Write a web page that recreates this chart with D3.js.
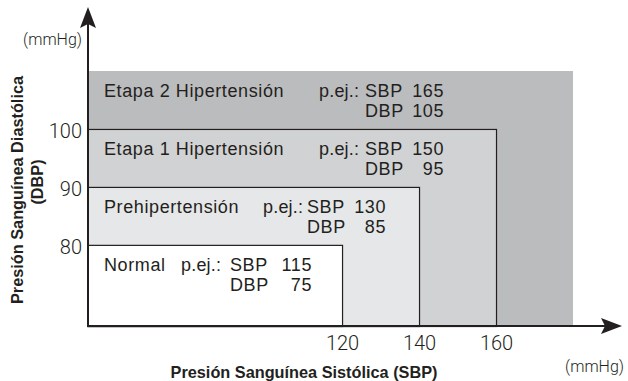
<!DOCTYPE html>
<html>
<head>
<meta charset="utf-8">
<script src="https://cdn.jsdelivr.net/npm/d3@7"></script>
<style>
  html, body { margin: 0; padding: 0; background: #fff; }
  svg { display: block; font-family: "Liberation Sans", Arial, Helvetica, sans-serif; }
  .light { font-family: Roboto, "Liberation Sans", Arial, sans-serif; font-weight: 300; }
</style>
</head>
<body>
<svg id="chart" width="628" height="381"></svg>
<script>
// Blood pressure categories (upper bounds of each zone, mmHg)
const stages = ["Normal", "Prehipertensión", "Etapa 1 Hipertensión", "Etapa 2 Hipertensión"];
const sbpUpper = [120, 140, 160, 180];
const dbpUpper = [80, 90, 100, 110];
// Example readings shown inside each zone
const exampleSBP = [115, 130, 150, 165];
const exampleDBP = [75, 85, 95, 105];
// Axis ticks
const xTicks = [120, 140, 160];
const yTicks = [80, 90, 100];

const fills = ["#ffffff", "#e6e7e8", "#d1d2d4", "#bbbcbe"];
const ink = "#231f20";

const svg = d3.select("#chart");
const x0 = 88, yBase = 326;
const x = d3.scaleLinear().domain([54, 180]).range([x0, 573]);
const y = d3.scaleLinear().domain([66, 110]).range([yBase, 71]);

// per-zone text layout: "p.ej.:" prefix, SBP/DBP tag and right edge of the numbers
const pejX = [181, 263, 319, 319];
const tagX = [230, 307, 365, 365];
const numEnd = [312, 386, 444, 444];

const rows = stages.map((s, i) => ({
  name: s, sbp: sbpUpper[i], dbp: dbpUpper[i], exS: exampleSBP[i], exD: exampleDBP[i], i
}));

// Zones, largest first so smaller ones sit on top
const zones = svg.append("g");
rows.slice().reverse().forEach(d => {
  const framed = d.i < 3;
  zones.append("rect")
    .attr("x", x(54))
    .attr("y", y(d.dbp) + (framed ? 0.5 : 0))
    .attr("width", x(d.sbp) - x(54) + (framed ? 0.5 : 0))
    .attr("height", yBase - y(d.dbp))
    .attr("fill", fills[d.i])
    .attr("stroke", framed ? ink : "none")
    .attr("stroke-width", 1.2);
});

// Zone labels
const labels = svg.append("g").attr("fill", ink)
  .style("font-size", "18px").style("letter-spacing", "0.6px");
rows.forEach(d => {
  const b1 = y(d.dbp) + 26, b2 = b1 + 20;
  labels.append("text").attr("x", 104).attr("y", b1).text(d.name);
  labels.append("text").attr("x", pejX[d.i]).attr("y", b1).style("letter-spacing", "0.2px").text("p.ej.:");
  labels.append("text").attr("x", tagX[d.i]).attr("y", b1).text("SBP");
  labels.append("text").attr("x", numEnd[d.i]).attr("y", b1).attr("text-anchor", "end").text(d.exS);
  labels.append("text").attr("x", tagX[d.i]).attr("y", b2).text("DBP");
  labels.append("text").attr("x", numEnd[d.i]).attr("y", b2).attr("text-anchor", "end").text(d.exD);
});

// Axes
const axisX = d3.axisBottom(x).tickValues(xTicks).tickSize(0).tickPadding(10);
const gx = svg.append("g").attr("transform", `translate(0,${yBase})`).call(axisX);
gx.select(".domain").remove();
gx.selectAll("text").attr("class", "light").attr("fill", ink).style("font-size", "20px");

const axisY = d3.axisLeft(y).tickValues(yTicks).tickSize(0).tickPadding(6);
const gy = svg.append("g").attr("transform", `translate(${x0},0)`).call(axisY);
gy.select(".domain").remove();
gy.selectAll("text").attr("class", "light").attr("fill", ink).style("font-size", "20px").attr("dy", "0.45em");

// Axis lines with arrowheads
svg.append("line").attr("x1", x0).attr("y1", yBase + 1).attr("x2", x0).attr("y2", 20)
  .attr("stroke", ink).attr("stroke-width", 2);
svg.append("line").attr("x1", x0 - 1).attr("y1", yBase).attr("x2", 608).attr("y2", yBase)
  .attr("stroke", ink).attr("stroke-width", 2);
svg.append("path").attr("d", `M${x0},7 L${x0 + 8},28 L${x0},24 L${x0 - 8},28 Z`).attr("fill", ink);
svg.append("path").attr("d", `M622,${yBase} L601,${yBase - 8} L605,${yBase} L601,${yBase + 8} Z`).attr("fill", ink);

// Units
svg.append("text").attr("class", "light").attr("x", 82).attr("y", 45).attr("text-anchor", "end")
  .attr("fill", ink).style("font-size", "16px").text("(mmHg)");
svg.append("text").attr("class", "light").attr("x", 624).attr("y", 372).attr("text-anchor", "end")
  .attr("fill", ink).style("font-size", "16px").text("(mmHg)");

// Axis titles
svg.append("text").attr("x", 304).attr("y", 378).attr("text-anchor", "middle")
  .attr("fill", ink).style("font-size", "16.3px").style("font-weight", "bold")
  .text("Presión Sanguínea Sistólica (SBP)");
const yt = svg.append("g").attr("transform", "translate(0,190) rotate(-90)")
  .attr("fill", ink).style("font-size", "16.3px").style("font-weight", "bold")
  .attr("text-anchor", "middle");
yt.append("text").attr("x", 0).attr("y", 23).text("Presión Sanguínea Diastólica");
yt.append("text").attr("x", 8).attr("y", 43).text("(DBP)");
</script>
</body>
</html>
